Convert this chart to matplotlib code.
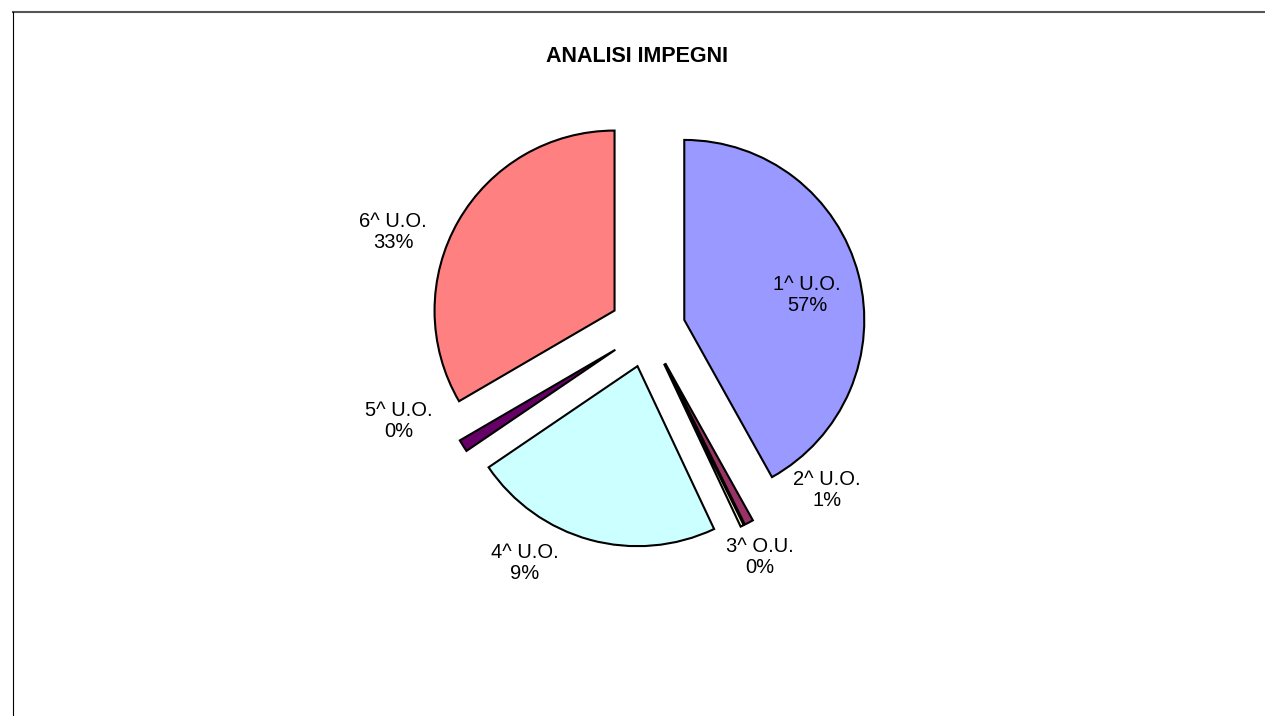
import matplotlib.pyplot as plt
from matplotlib.lines import Line2D

plt.rcParams['font.family'] = ['Liberation Sans', 'DejaVu Sans']

# slice sizes as drawn (share of the full circle, %)
categories = ['1^ U.O.', '2^ U.O.', '3^ O.U.', '4^ U.O.', '5^ U.O.', '6^ U.O.']
shares = [41.9, 0.8, 0.3, 22.5, 1.1, 33.4]
# percentages printed in the labels
label_pct = ['57%', '1%', '0%', '9%', '0%', '33%']
colors = ['#9999FF', '#993366', '#FFFFCC', '#CCFFFF', '#660066', '#FF8080']

W, H = 1265, 716
fig = plt.figure(figsize=(W / 100, H / 100), dpi=100)
ax = fig.add_axes([0, 0, 1, 1])
ax.set_xlim(0, W)
ax.set_ylim(0, H)
ax.set_aspect('equal')
ax.axis('off')

cx, cy, r = 647.5, 386.5, 180
ax.pie(shares, colors=colors, startangle=90, counterclock=False,
       center=(cx, cy), radius=r, explode=[38] * len(shares),
       wedgeprops=dict(edgecolor='black', linewidth=1.5),
       frame=False)
ax.set_xlim(0, W)
ax.set_ylim(0, H)

# label placement, in units of the radius from the pie centre
label_offsets = [(0.886, 0.192), (0.997, -0.892), (0.625, -1.264),
                 (-0.681, -1.297), (-1.381, -0.508), (-1.414, 0.542)]
for cat, pct, (dx, dy) in zip(categories, label_pct, label_offsets):
    ax.text(cx + dx * r, cy + dy * r, f'{cat}\n{pct}', ha='center', va='center',
            fontsize=14.5, linespacing=1.15)

ax.text(W / 2 + 4, H - 56, 'ANALISI IMPEGNI', ha='center', va='center',
        fontsize=15.5, fontweight='bold')

# chart area border (top and left visible)
fig.add_artist(Line2D([13 / W, 1], [1 - 12 / H, 1 - 12 / H], color='#555555',
                      linewidth=1.5, transform=fig.transFigure))
fig.add_artist(Line2D([13 / W, 13 / W], [0, 1 - 12 / H], color='black',
                      linewidth=0.8, transform=fig.transFigure))

fig.savefig('out.png', dpi=100, facecolor='white')
